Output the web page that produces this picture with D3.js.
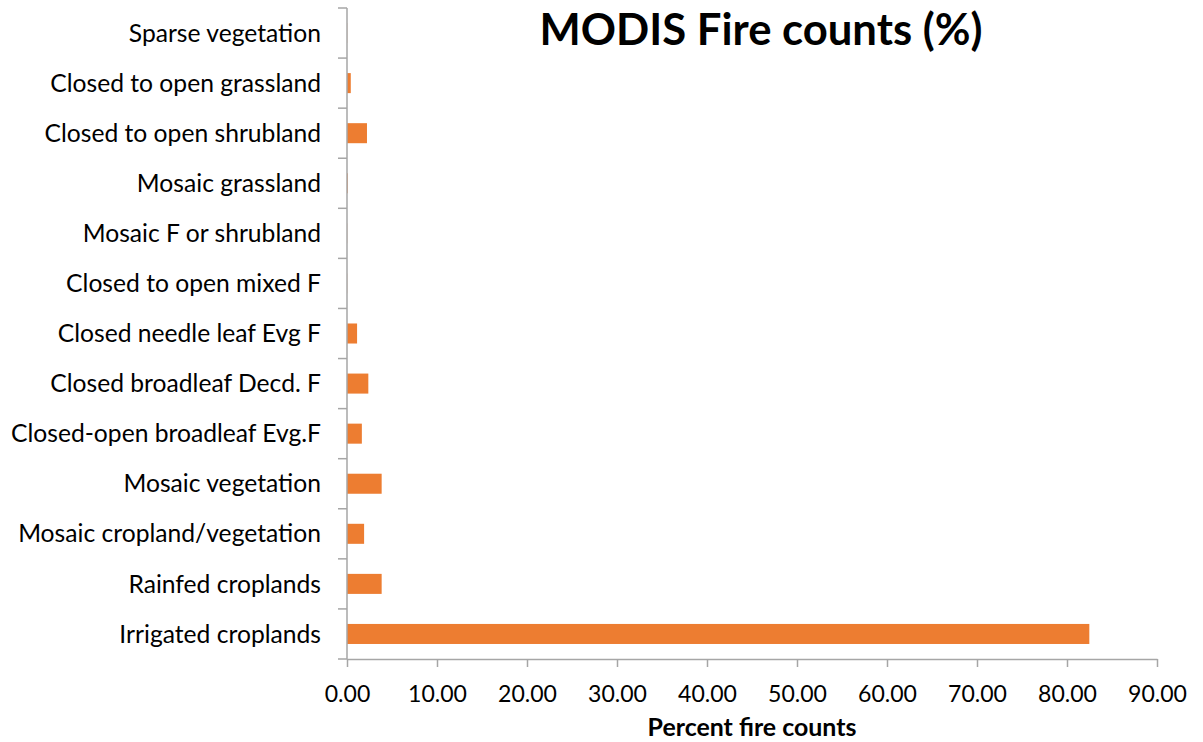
<!DOCTYPE html>
<html><head><meta charset="utf-8">
<script src="https://cdn.jsdelivr.net/npm/d3@7"></script>
<style>body{margin:0;background:#fff}svg{display:block}text{font-family:Lato,"Open Sans",sans-serif;fill:#000}</style>
</head><body>
<script>
const categories = ["Sparse vegetation","Closed to open grassland","Closed to open shrubland","Mosaic grassland","Mosaic F or shrubland","Closed to open mixed F","Closed needle leaf Evg F","Closed broadleaf Decd. F","Closed-open broadleaf Evg.F","Mosaic vegetation","Mosaic cropland/vegetation","Rainfed croplands","Irrigated croplands"];
const values = [0.02,0.42,2.22,0.08,0.02,0.02,1.12,2.37,1.65,3.85,1.9,3.85,82.48];
const xTicks = [0,10,20,30,40,50,60,70,80,90];
const title = "MODIS Fire counts (%)";
const xTitle = "Percent fire counts";

const W=1203,H=742;
const svg=d3.select("body").append("svg").attr("width",W).attr("height",H);
const m={l:347,r:1157,t:8,b:659};
const x=d3.scaleLinear().domain([0,90]).range([m.l,m.r]);
const y=d3.scaleBand().domain(categories).range([m.t,m.b]).paddingInner(0.6).paddingOuter(0.3);

function fit(sel,target){const w=sel.node().getComputedTextLength();const fs=parseFloat(sel.attr("font-size"));sel.attr("font-size",fs*target/w);}

// bars
svg.append("g").selectAll("rect").data(categories).join("rect")
  .attr("x",x(0)).attr("y",d=>y(d)).attr("height",y.bandwidth())
  .attr("width",(d,i)=>x(values[i])-x(0)).attr("fill","#ED7D31");

// x axis
const gx=svg.append("g").attr("transform",`translate(0,${m.b})`)
  .call(d3.axisBottom(x).tickValues(xTicks).tickFormat(d3.format(".2f")).tickSize(8).tickSizeOuter(0));
gx.select(".domain").attr("stroke","#A6A6A6").attr("stroke-width",1.5);
gx.selectAll(".tick line").attr("stroke","#A6A6A6").attr("stroke-width",1.5);
gx.selectAll(".tick text").attr("font-size",20).attr("fill","#000").attr("dy",0).attr("y",43).attr("font-family","Lato");

// y axis with ticks at band boundaries
const yBound=categories.map(d=>y(d)-y.step()*y.paddingInner()/2).concat([m.b]);
const gy=svg.append("g");
gy.append("line").attr("x1",m.l).attr("x2",m.l).attr("y1",m.t).attr("y2",m.b).attr("stroke","#A6A6A6").attr("stroke-width",1.5);
gy.selectAll("line.t").data(yBound).join("line").attr("class","t")
  .attr("x1",m.l-9).attr("x2",m.l).attr("y1",d=>d).attr("y2",d=>d).attr("stroke","#A6A6A6").attr("stroke-width",1.5);
gy.selectAll("text").data(categories).join("text")
  .attr("x",321).attr("y",d=>y(d)+y.bandwidth()/2).attr("dy","0.35em")
  .attr("text-anchor","end").attr("font-size",22).text(d=>d);

// fit label font
const probe=gy.selectAll("text").filter(d=>d==="Mosaic cropland/vegetation");
fit(probe,303);
const lfs=probe.attr("font-size");
gy.selectAll("text").attr("font-size",lfs);
const tp=gx.selectAll(".tick text").filter(d=>d===10);
fit(tp,59);
gx.selectAll(".tick text").attr("font-size",tp.attr("font-size"));

const t=svg.append("text").attr("x",761).attr("y",45).attr("text-anchor","middle").attr("font-weight","bold").attr("font-size",40).text(title);
fit(t,443);
const xt=svg.append("text").attr("x",752).attr("y",736).attr("text-anchor","middle").attr("font-weight","bold").attr("font-size",20).text(xTitle);
fit(xt,209);
</script>
</body></html>
